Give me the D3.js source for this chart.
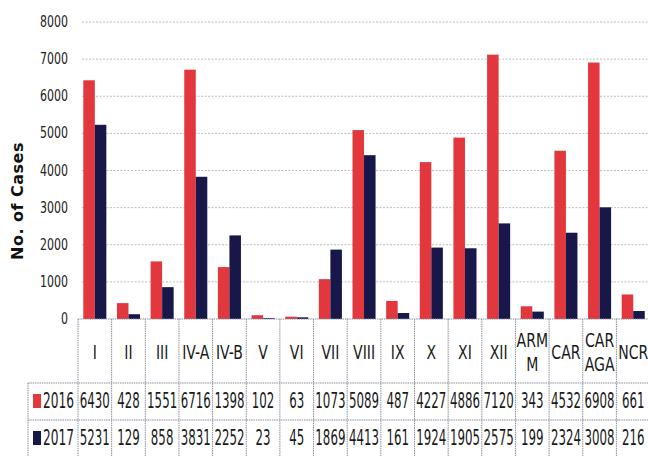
<!DOCTYPE html>
<html><head><meta charset="utf-8">
<script src="https://cdn.jsdelivr.net/npm/d3@7/dist/d3.min.js"></script>
<style>body{margin:0;background:#fff}svg{display:block}</style>
</head><body>
<svg id="c" width="648" height="456"></svg>
<script>
const categories = ["I","II","III","IV-A","IV-B","V","VI","VII","VIII","IX","X","XI","XII","ARMM","CAR","CARAGA","NCR"];
const categoryLabels = [["I"],["II"],["III"],["IV-A"],["IV-B"],["V"],["VI"],["VII"],["VIII"],["IX"],["X"],["XI"],["XII"],["ARM","M"],["CAR"],["CAR","AGA"],["NCR"]];
const seriesNames = ["2016","2017"];
const values2016 = [6430,428,1551,6716,1398,102,63,1073,5089,487,4227,4886,7120,343,4532,6908,661];
const values2017 = [5231,129,858,3831,2252,23,45,1869,4413,161,1924,1905,2575,199,2324,3008,216];
const yTicks = [0,1000,2000,3000,4000,5000,6000,7000,8000];
const colors = ["#e2383d","#17174a"];

const svg = d3.select("#c");
const font = "'Liberation Sans Narrow','DejaVu Sans Condensed','Liberation Sans',Arial,sans-serif";
const left = 78, colW = 33.65, n = categories.length;
const y0 = 319, yTop = 22;
const x = d3.scaleBand().domain(categories).range([left, left + n*colW]).padding(0);
const y = d3.scaleLinear().domain([0,8000]).range([y0, yTop]);
const x1 = d3.scaleBand().domain(seriesNames).range([5.3, colW-5.3]).padding(0);
const series = [values2016, values2017];

// gridlines
svg.append("g").selectAll("line").data(yTicks.filter(t=>t>0)).join("line")
  .attr("x1", 82).attr("x2", 648).attr("y1", d=>y(d)).attr("y2", d=>y(d))
  .attr("stroke","#bcbcc4").attr("stroke-width",1).attr("stroke-dasharray","2,1.5");

// y tick labels
svg.append("g").selectAll("text").data(yTicks).join("text")
  .attr("transform", d=>`translate(68,${y(d)+5}) scale(0.74,1)`)
  .attr("text-anchor","end").attr("font-family",font).attr("font-size",16.5).attr("fill","#222")
  .text(d=>d);

// y title
svg.append("text").attr("transform","translate(23,201) rotate(-90)")
  .attr("text-anchor","middle").attr("font-family","'DejaVu Sans','Liberation Sans',Arial,sans-serif")
  .attr("font-weight","bold").attr("font-size",16).attr("fill","#111").attr("letter-spacing",0.5)
  .text("No. of Cases");

// bars
const g = svg.append("g");
series.forEach((vals, si) => {
  g.append("g").selectAll("rect").data(categories).join("rect")
    .attr("x", (c)=>x(c)+x1(seriesNames[si]))
    .attr("width", x1.bandwidth())
    .attr("y", (c,i)=>y(vals[i]))
    .attr("height", (c,i)=>y0 - y(vals[i]))
    .attr("fill", colors[si]);
});

// table
const rowH = [383, 420, 457];
const tbl = svg.append("g").attr("stroke","#8c8c9c").attr("stroke-width",1).attr("stroke-dasharray","1.5,0.8");
tbl.append("line").attr("x1",left).attr("x2",648).attr("y1",y0).attr("y2",y0);
tbl.selectAll(".h").data(rowH).join("line").attr("class","h")
  .attr("x1",28).attr("x2",648).attr("y1",d=>d).attr("y2",d=>d);
const bounds = d3.range(n+1).map(i=>left + i*colW);
tbl.selectAll(".v").data(bounds).join("line").attr("class","v")
  .attr("x1",d=>d).attr("x2",d=>d).attr("y1",y0).attr("y2",457);
tbl.append("line").attr("x1",28).attr("x2",28).attr("y1",rowH[0]).attr("y2",457);

// category labels
const cat = svg.append("g");
categories.forEach((c,i)=>{
  const lines = categoryLabels[i];
  const cx = x(c) + colW/2;
  lines.forEach((t,li)=>{
    const cy = lines.length===1 ? 359 : 347 + li*24;
    cat.append("text").attr("transform",`translate(${cx},${cy}) scale(0.8,1)`)
      .attr("text-anchor","middle").attr("font-family",font).attr("font-size",19.5).attr("fill","#1a1a1a")
      .text(t);
  });
});

// values rows
const rowsY = [408, 445];
series.forEach((vals, si)=>{
  svg.append("g").selectAll("text").data(categories).join("text")
    .attr("transform",(c)=>`translate(${x(c)+colW/2},${rowsY[si]}) scale(0.64,1)`)
    .attr("text-anchor","middle").attr("font-family",font).attr("font-size",20.5).attr("fill","#1a1a1a")
    .text((c,i)=>vals[i]);
  svg.append("rect").attr("x",33).attr("y",rowsY[si]-14).attr("width",8).attr("height",14).attr("fill",colors[si]);
  svg.append("text").attr("transform",`translate(43,${rowsY[si]}) scale(0.66,1)`)
    .attr("font-family",font).attr("font-size",20.5).attr("fill","#1a1a1a").text(seriesNames[si]);
});
</script>
</body></html>
